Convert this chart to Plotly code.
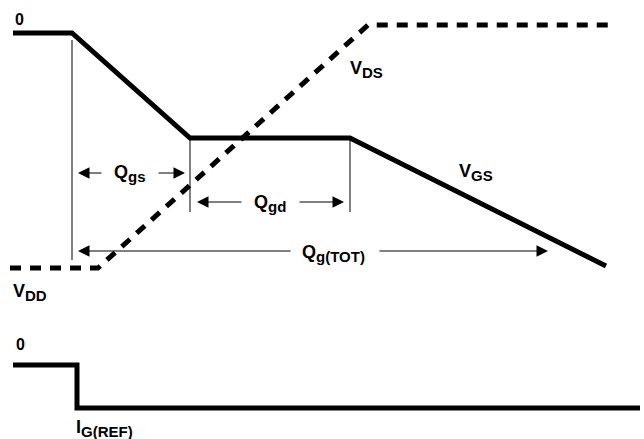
import plotly.graph_objects as go

# gate charge waveform, drawn in a 644 x 439 canvas (x = charge, y down = voltage drop)
vgs_q = [13, 72, 190, 350, 606]
vgs_v = [33, 33, 138, 138, 266]

vds_q = [10, 98, 368, 616]
vds_v = [268, 268, 25, 25]

ig_q = [13, 77, 77, 640]
ig_v = [365, 365, 408, 408]

# thin vertical markers: x, top, bottom
marker_q = [72, 190, 350]
marker_top = [40, 140, 140]
marker_bot = [260, 212, 212]

# labels: main letter and subscript
label_main = ["0", "V", "V", "Q", "Q", "Q", "V", "0", "I"]
label_sub = ["", "DS", "GS", "gs", "gd", "g(TOT)", "DD", "", "G(REF)"]
label_q = [19, 366, 476, 130, 270, 333, 30, 20, 104]
label_v = [19, 69, 172, 173, 203, 253, 292, 344, 428]

# dimension arrows: (head x, tail x, y)
arrows = [
    (78, 103, 173), (185, 157, 173),
    (197, 243, 202), (344, 298, 202),
    (78, 292, 251), (548, 378, 251),
]

fig = go.Figure()
fig.add_trace(go.Scatter(x=vgs_q, y=vgs_v, mode="lines",
                         line=dict(color="black", width=5), hoverinfo="skip"))
fig.add_trace(go.Scatter(x=vds_q, y=vds_v, mode="lines",
                         line=dict(color="black", width=5, dash="11px,9px"), hoverinfo="skip"))
fig.add_trace(go.Scatter(x=ig_q, y=ig_v, mode="lines",
                         line=dict(color="black", width=5), hoverinfo="skip"))

for q, t, b in zip(marker_q, marker_top, marker_bot):
    fig.add_shape(type="line", x0=q, x1=q, y0=t, y1=b,
                  line=dict(color="black", width=1))

for hx, tx, y in arrows:
    fig.add_annotation(x=hx, y=y, ax=tx, ay=y, xref="x", yref="y", axref="x", ayref="y",
                       text="", showarrow=True, arrowhead=2, arrowsize=2.3,
                       arrowwidth=1, arrowcolor="black")

for m, s, q, v in zip(label_main, label_sub, label_q, label_v):
    txt = "<b>" + m + "</b>"
    if s:
        txt += "<sub><span style='font-size:15px'><b>" + s + "</b></span></sub>"
    fig.add_annotation(x=q, y=v, text=txt, showarrow=False,
                       xanchor="center", yanchor="middle",
                       font=dict(family="Liberation Sans", size=18 if s else 16, color="black"))

fig.update_layout(
    width=644, height=439,
    margin=dict(l=0, r=0, t=0, b=0),
    paper_bgcolor="white", plot_bgcolor="white",
    showlegend=False,
    xaxis=dict(range=[0, 644], visible=False, fixedrange=True),
    yaxis=dict(range=[439, 0], visible=False, fixedrange=True),
)

fig.write_html("out.html", config={"displayModeBar": False},
               post_script="document.body.style.margin='0';")
